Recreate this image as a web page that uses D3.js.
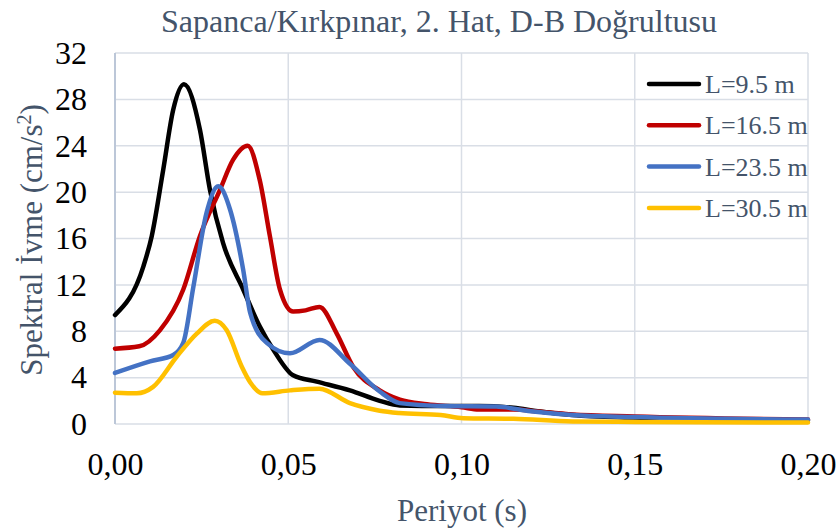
<!DOCTYPE html>
<html>
<head>
<meta charset="utf-8">
<script src="https://cdn.jsdelivr.net/npm/d3@7"></script>
<style>
  html, body { margin: 0; padding: 0; background: #fff; }
  svg { display: block; }
  svg text { font-family: "Liberation Serif", "Times New Roman", Tinos, "DejaVu Serif", serif; }
</style>
</head>
<body>
<svg id="chart" width="840" height="530"></svg>
<script>
// ---- data ----
const title = "Sapanca/Kırkpınar, 2. Hat, D-B Doğrultusu";
const xTitle = "Periyot (s)";
const yTitle = "Spektral İvme (cm/s";
const seriesNames = ["L=9.5 m", "L=16.5 m", "L=23.5 m", "L=30.5 m"];
const seriesColors = ["#000000", "#C00000", "#4472C4", "#FFC000"];
const xTicks = [0, 0.05, 0.10, 0.15, 0.20];
const yTicks = [0, 4, 8, 12, 16, 20, 24, 28, 32];

const periods1 = [0, 0.0082, 0.0106, 0.0139, 0.0168, 0.0199, 0.0245, 0.0274, 0.0312, 0.037, 0.0418, 0.0457, 0.0514, 0.0582, 0.0678, 0.0764, 0.0822, 0.095, 0.105, 0.115, 0.122, 0.132, 0.15, 0.2];
const values1  = [9.4, 13.6, 16.2, 21.9, 27.1, 29.3, 25.4, 20.2, 15.6, 11.6, 8.4, 6.4, 4.2, 3.65, 2.9, 2.0, 1.6, 1.55, 1.55, 1.4, 1.1, 0.78, 0.55, 0.3];

const periods2 = [0, 0.007, 0.013, 0.0197, 0.0245, 0.0303, 0.0341, 0.0383, 0.0418, 0.0447, 0.0476, 0.0514, 0.055, 0.059, 0.064, 0.0688, 0.0764, 0.0822, 0.09, 0.1, 0.105, 0.115, 0.123, 0.132, 0.15, 0.2];
const values2  = [6.5, 6.7, 8.1, 11.6, 16.2, 20.2, 22.8, 24.0, 21.0, 16.2, 11.6, 9.7, 9.8, 10.1, 7.8, 4.9, 2.9, 2.1, 1.7, 1.45, 1.25, 1.25, 1.05, 0.82, 0.65, 0.38];

const periods3 = [0, 0.0101, 0.0168, 0.0197, 0.0226, 0.0264, 0.0298, 0.0332, 0.037, 0.039, 0.0438, 0.0505, 0.059, 0.0678, 0.0764, 0.0822, 0.095, 0.11, 0.12, 0.132, 0.15, 0.2];
const values3  = [4.4, 5.4, 5.95, 7.0, 11.8, 18.2, 20.5, 18.5, 13.3, 9.6, 7.0, 6.1, 7.25, 5.2, 2.8, 1.8, 1.55, 1.5, 1.1, 0.78, 0.6, 0.38];

const periods4 = [0, 0.0063, 0.011, 0.0178, 0.0236, 0.0288, 0.0322, 0.0365, 0.039, 0.0425, 0.0505, 0.059, 0.0678, 0.0764, 0.082, 0.094, 0.1005, 0.115, 0.132, 0.15, 0.2];
const values4  = [2.7, 2.65, 3.2, 5.8, 7.8, 8.9, 8.1, 5.0, 3.6, 2.65, 2.9, 3.05, 1.8, 1.15, 0.95, 0.78, 0.5, 0.45, 0.22, 0.18, 0.12];

const allPeriods = [periods1, periods2, periods3, periods4];
const allValues = [values1, values2, values3, values4];

// ---- layout ----
const svg = d3.select("#chart");
const plot = { left: 115, right: 808, top: 53, bottom: 424 };
const x = d3.scaleLinear().domain([0, 0.20]).range([plot.left, plot.right]);
const y = d3.scaleLinear().domain([0, 32]).range([plot.bottom, plot.top]);
const textColor = "#44546A";
const gridColor = "#D9DEE6";
const fmtX = v => d3.format(".2f")(v).replace(".", ",");

// gridlines
const grid = svg.append("g");
grid.selectAll("line.h").data(yTicks).join("line")
  .attr("x1", plot.left).attr("x2", plot.right)
  .attr("y1", d => y(d)).attr("y2", d => y(d))
  .attr("stroke", gridColor).attr("stroke-width", 1.5);
grid.selectAll("line.v").data(xTicks.slice(1)).join("line")
  .attr("y1", plot.top).attr("y2", plot.bottom)
  .attr("x1", d => x(d)).attr("x2", d => x(d))
  .attr("stroke", gridColor).attr("stroke-width", 1.5);
// left axis line
svg.append("line")
  .attr("x1", plot.left).attr("x2", plot.left)
  .attr("y1", plot.top).attr("y2", plot.bottom)
  .attr("stroke", "#BCC7D8").attr("stroke-width", 2);

// axes via d3
const yAxis = d3.axisLeft(y).tickValues(yTicks).tickSize(0).tickPadding(28).tickFormat(d3.format("d"));
const gy = svg.append("g").attr("transform", `translate(${plot.left},0)`).call(yAxis);
gy.attr("font-family", null);
gy.select(".domain").remove();
gy.selectAll("text").attr("font-size", 32).attr("fill", "#000");

const xAxis = d3.axisBottom(x).tickValues(xTicks).tickSize(0).tickPadding(28).tickFormat(fmtX);
const gx = svg.append("g").attr("transform", `translate(0,${plot.bottom})`).call(xAxis);
gx.attr("font-family", null);
gx.select(".domain").remove();
gx.selectAll("text").attr("font-size", 32).attr("fill", "#000");

// series
const line = d3.line()
  .x(d => x(d[0])).y(d => y(d[1]))
  .curve(d3.curveMonotoneX);
allPeriods.forEach((ps, i) => {
  const pts = ps.map((p, j) => [p, allValues[i][j]]);
  svg.append("path").datum(pts)
    .attr("d", line)
    .attr("fill", "none")
    .attr("stroke", seriesColors[i])
    .attr("stroke-width", 4.5)
    .attr("stroke-linejoin", "round")
    .attr("stroke-linecap", "round");
});

// title
svg.append("text").attr("x", 439).attr("y", 32)
  .attr("text-anchor", "middle").attr("font-size", 32).attr("fill", textColor)
  .text(title);

// axis titles
svg.append("text").attr("x", 462).attr("y", 521)
  .attr("text-anchor", "middle").attr("font-size", 31).attr("fill", textColor)
  .text(xTitle);
const yt = svg.append("text")
  .attr("transform", "translate(42,240) rotate(-90)")
  .attr("text-anchor", "middle").attr("font-size", 31).attr("fill", textColor);
yt.append("tspan").text(yTitle);
yt.append("tspan").attr("font-size", 20).attr("dy", -11).text("2");
yt.append("tspan").attr("dy", 11).text(")");

// legend
const legend = svg.append("g");
seriesNames.forEach((name, i) => {
  const ly = 84 + i * 41.3;
  legend.append("line").attr("x1", 649).attr("x2", 699).attr("y1", ly).attr("y2", ly)
    .attr("stroke", seriesColors[i]).attr("stroke-width", 4.5).attr("stroke-linecap", "round");
  legend.append("text").attr("x", 705).attr("y", ly + 9)
    .attr("font-size", 26).attr("fill", textColor).text(name);
});
</script>
</body>
</html>
